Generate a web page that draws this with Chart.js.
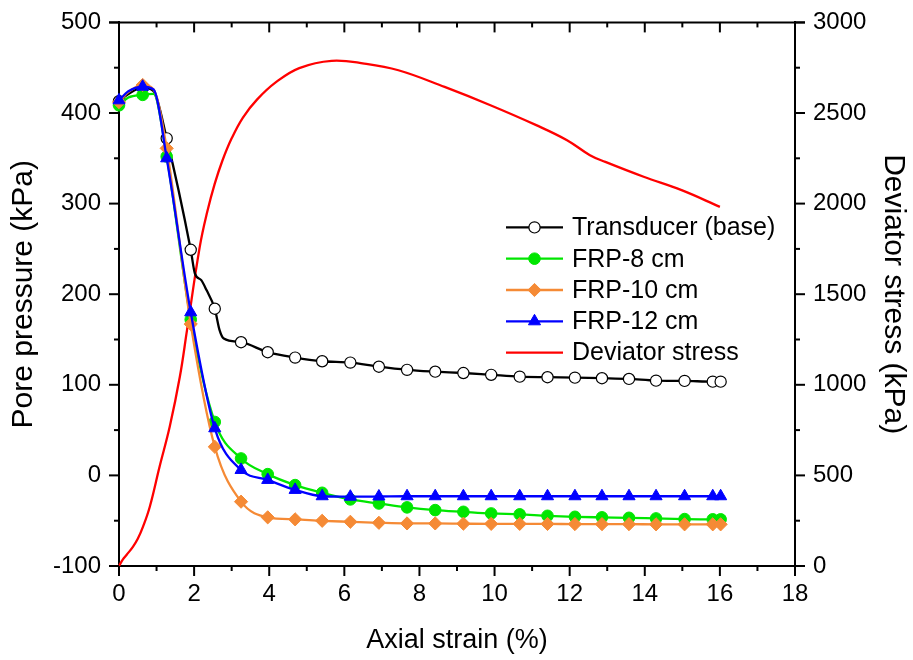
<!DOCTYPE html>
<html>
<head>
<meta charset="utf-8">
<script src="https://cdn.jsdelivr.net/npm/chart.js@4.4.1/dist/chart.umd.min.js"></script>
<style>
  html, body { margin: 0; padding: 0; background: #fff; }
  #wrap { width: 913px; height: 660px; }
</style>
</head>
<body>
<div id="wrap"><canvas id="c" width="913" height="660"></canvas></div>
<script>
// Axial strain (%) at which symbols are drawn on the pore-pressure curves
const markerStrain = [0, 0.63, 1.27, 1.91, 2.55, 3.25, 3.96, 4.69, 5.41, 6.16, 6.92, 7.67,
  8.42, 9.17, 9.91, 10.67, 11.41, 12.14, 12.86, 13.58, 14.3, 15.06, 15.81, 16.02];

// Transducer at the specimen base (kPa)
const transducerStrain = [0, 0.25, 0.63, 0.92, 1.27, 1.91, 2.02, 2.19, 2.33, 2.55, 2.68, 2.79, 3.25,
  3.96, 4.69, 5.41, 6.16, 6.92, 7.67, 8.42, 9.17, 9.91, 10.67, 11.41, 12.14, 12.86, 13.58,
  14.3, 15.06, 15.81, 16.02];
const transducerPore = [413, 421, 428, 424, 372, 249, 223, 215.5, 204.5, 184, 160, 151, 147,
  136, 130, 126, 124.5, 120, 116.5, 114.5, 113, 111, 109, 108.4, 107.9, 107.3, 106.5,
  104.6, 104.3, 103.5, 103.5];

// Fibre (FRP) sensors at 8, 10 and 12 cm (kPa)
const frpStrain = [0, 0.25, 0.63, 0.92, 1.27, 1.91, 2.55, 3.25, 3.96, 4.69, 5.41, 6.16, 6.92,
  7.67, 8.42, 9.17, 9.91, 10.67, 11.41, 12.14, 12.86, 13.58, 14.3, 15.06, 15.81, 16.02];
const frp8Pore = [408.5, 417, 420, 421, 352, 172, 59, 18.7, 1.4, -10.7, -19.2, -26.5, -31,
  -35.3, -38.3, -40.2, -42, -43, -44.6, -45.7, -46.3, -46.8, -47.5, -48.2, -48.5, -48.5];
const frp10Pore = [412, 423, 431, 426, 361, 167, 31.6, -29, -46.3, -48.5, -50.1, -51.2, -52.3,
  -53, -53, -53.3, -53.5, -53.5, -53.6, -53.7, -53.8, -53.8, -54, -54, -54, -54];
const frp12Pore = [414, 424, 429, 426, 350, 180, 52, 6, -5, -16, -23, -23.5, -23.3,
  -23, -23, -23, -23, -23, -23, -23, -23, -23, -23, -23, -23, -23];

// Deviator stress (kPa, right axis)
const deviatorStrain = [0, 0.1, 0.2, 0.37, 0.5, 0.64, 0.82, 1.08, 1.35, 1.62, 1.81, 2.15, 2.35,
  2.55, 2.75, 3.0, 3.3, 3.68, 4.18, 4.8, 5.66, 6.53, 7.44, 8.67, 9.89, 11.11, 11.93, 12.54,
  12.95, 13.97, 14.98, 16.0];
const deviatorStress = [0, 35, 61, 106, 150, 217, 327, 548, 768, 1044, 1300, 1761, 1955,
  2110, 2235, 2360, 2475, 2575, 2670, 2748, 2788, 2773, 2736, 2644, 2543, 2433, 2350, 2267,
  2230, 2148, 2074, 1982];

// Axis ticks
const strainTicks = [0, 2, 4, 6, 8, 10, 12, 14, 16, 18];
const poreTicks = [-100, 0, 100, 200, 300, 400, 500];
const stressTicks = [0, 500, 1000, 1500, 2000, 2500, 3000];

const FONT = '"Liberation Sans", Arial, Helvetica, sans-serif';
const markerSet = new Set(markerStrain);
const pairs = (xs, ys) => xs.map((x, i) => ({ x: x, y: ys[i] }));
const markerRadius = r => ctx => (ctx.raw && markerSet.has(ctx.raw.x) ? r : 0);

const datasets = [
  {
    label: 'Transducer (base)', data: pairs(transducerStrain, transducerPore), yAxisID: 'y',
    borderColor: '#000', borderWidth: 2.3, backgroundColor: '#fff',
    pointStyle: 'circle', pointRadius: markerRadius(5.6), pointBorderWidth: 1.2,
    pointBorderColor: '#000', pointBackgroundColor: '#fff', keyRadius: 5.6, order: 4,
    cubicInterpolationMode: 'monotone'
  },
  {
    label: 'FRP-8 cm', data: pairs(frpStrain, frp8Pore), yAxisID: 'y',
    borderColor: '#00e600', borderWidth: 2.3, backgroundColor: '#00e600',
    pointStyle: 'circle', pointRadius: markerRadius(5.8), pointBorderWidth: 1,
    pointBorderColor: '#00e600', pointBackgroundColor: '#00e600', keyRadius: 5.8, order: 3,
    cubicInterpolationMode: 'monotone'
  },
  {
    label: 'FRP-10 cm', data: pairs(frpStrain, frp10Pore), yAxisID: 'y',
    borderColor: '#f58a35', borderWidth: 2.3, backgroundColor: '#f58a35',
    pointStyle: 'rectRot', pointRadius: markerRadius(6.6), pointBorderWidth: 1,
    pointBorderColor: '#f58a35', pointBackgroundColor: '#f58a35', keyRadius: 6.6, order: 2,
    cubicInterpolationMode: 'monotone'
  },
  {
    label: 'FRP-12 cm', data: pairs(frpStrain, frp12Pore), yAxisID: 'y',
    borderColor: '#0000ff', borderWidth: 2.3, backgroundColor: '#0000ff',
    pointStyle: 'triangle', pointRadius: markerRadius(7), pointBorderWidth: 1,
    pointBorderColor: '#0000ff', pointBackgroundColor: '#0000ff', keyRadius: 7, order: 1,
    cubicInterpolationMode: 'monotone'
  },
  {
    label: 'Deviator stress', data: pairs(deviatorStrain, deviatorStress), yAxisID: 'y2',
    borderColor: '#ff0000', borderWidth: 2.3, backgroundColor: '#ff0000',
    pointRadius: 0, keyRadius: 0, order: 5, tension: 0.4
  }
];

// Frame top edge, major/minor tick marks (outward on the axes, inward on the top edge)
const frameTicks = {
  id: 'frameTicks',
  afterDraw(chart) {
    const { ctx, chartArea: a, scales } = chart;
    ctx.save();
    ctx.strokeStyle = '#000';
    ctx.lineWidth = 2;
    ctx.lineCap = 'butt';
    const seg = (x1, y1, x2, y2) => { ctx.beginPath(); ctx.moveTo(x1, y1); ctx.lineTo(x2, y2); ctx.stroke(); };
    seg(a.left - 10, a.top, a.right + 10, a.top);
    for (let v = 0; v <= 18; v += 1) {
      const px = scales.x.getPixelForValue(v);
      const len = v % 2 === 0 ? 10 : 5;
      seg(px, a.bottom, px, a.bottom + len);
      seg(px, a.top, px, a.top + len);
    }
    for (let v = -100; v <= 500; v += 50) {
      const py = scales.y.getPixelForValue(v);
      const len = v % 100 === 0 ? 10 : 5;
      seg(a.left, py, a.left - len, py);
    }
    for (let v = 0; v <= 3000; v += 250) {
      const py = scales.y2.getPixelForValue(v);
      const len = v % 500 === 0 ? 10 : 5;
      seg(a.right, py, a.right + len, py);
    }
    ctx.restore();
  }
};

// Series key drawn inside the plot area
const seriesKey = {
  id: 'seriesKey',
  afterDraw(chart, args, opts) {
    const { ctx, chartArea: a } = chart;
    const x0 = a.left + opts.offsetX;
    const y0 = a.top + opts.offsetY;
    ctx.save();
    chart.data.datasets.forEach((ds, i) => {
      const y = y0 + i * opts.rowGap;
      ctx.strokeStyle = ds.borderColor;
      ctx.lineWidth = ds.borderWidth;
      ctx.beginPath();
      ctx.moveTo(x0, y);
      ctx.lineTo(x0 + opts.lineLen, y);
      ctx.stroke();
      if (ds.keyRadius > 0) {
        ctx.fillStyle = ds.pointBackgroundColor;
        ctx.strokeStyle = ds.pointBorderColor;
        ctx.lineWidth = ds.pointBorderWidth;
        Chart.helpers.drawPoint(ctx, { pointStyle: ds.pointStyle, radius: ds.keyRadius, rotation: 0, borderWidth: ds.pointBorderWidth }, x0 + opts.lineLen / 2, y);
      }
      ctx.fillStyle = '#000';
      ctx.font = opts.fontSize + 'px ' + FONT;
      ctx.textAlign = 'left';
      ctx.textBaseline = 'middle';
      ctx.fillText(ds.label, x0 + opts.textGap, y + 1);
    });
    ctx.restore();
  }
};

const tickFont = { family: FONT, size: 24 };
const xTitleFont = { family: FONT, size: 27 };
const yTitleFont = { family: FONT, size: 30 };

new Chart(document.getElementById('c'), {
  type: 'line',
  data: { datasets: datasets },
  plugins: [frameTicks, seriesKey],
  options: {
    responsive: false,
    animation: false,
    devicePixelRatio: 1,
    layout: { padding: { top: 22, left: 0, right: 0, bottom: 0 } },
    elements: {
      line: { fill: false },
      point: { hoverRadius: 0 }
    },
    datasets: { line: { clip: false } },
    plugins: {
      legend: { display: false },
      tooltip: { enabled: false },
      seriesKey: { offsetX: 387, offsetY: 205, rowGap: 31.3, lineLen: 57, textGap: 66, fontSize: 25 }
    },
    scales: {
      x: {
        type: 'linear', position: 'bottom', min: 0, max: 18,
        afterBuildTicks: s => { s.ticks = strainTicks.map(v => ({ value: v })); },
        afterFit: s => { s.height = 94; },
        ticks: { font: tickFont, color: '#000', padding: 4, maxRotation: 0, autoSkip: false,
                 callback: v => String(v) },
        grid: { display: false, drawTicks: true, tickLength: 10 },
        border: { display: true, color: '#000', width: 2 },
        title: { display: true, text: 'Axial strain (%)', font: xTitleFont, color: '#000', padding: { top: 0, bottom: 3 } }
      },
      y: {
        type: 'linear', position: 'left', min: -100, max: 500,
        afterBuildTicks: s => { s.ticks = poreTicks.map(v => ({ value: v })); },
        afterFit: s => { s.width = 119; },
        ticks: { font: tickFont, color: '#000', padding: 8, autoSkip: false, callback: v => String(v) },
        grid: { display: false, drawTicks: true, tickLength: 10 },
        border: { display: true, color: '#000', width: 2 },
        title: { display: true, text: 'Pore pressure (kPa)', font: yTitleFont, color: '#000', padding: { top: 6, bottom: 0 } }
      },
      y2: {
        type: 'linear', position: 'right', min: 0, max: 3000,
        afterBuildTicks: s => { s.ticks = stressTicks.map(v => ({ value: v })); },
        afterFit: s => { s.width = 118; },
        ticks: { font: tickFont, color: '#000', padding: 8, autoSkip: false, callback: v => String(v) },
        grid: { display: false, drawTicks: true, tickLength: 10 },
        border: { display: true, color: '#000', width: 2 },
        title: { display: true, text: 'Deviator stress (kPa)', font: yTitleFont, color: '#000', padding: { top: 2, bottom: 0 } }
      }
    }
  }
});
</script>
</body>
</html>
